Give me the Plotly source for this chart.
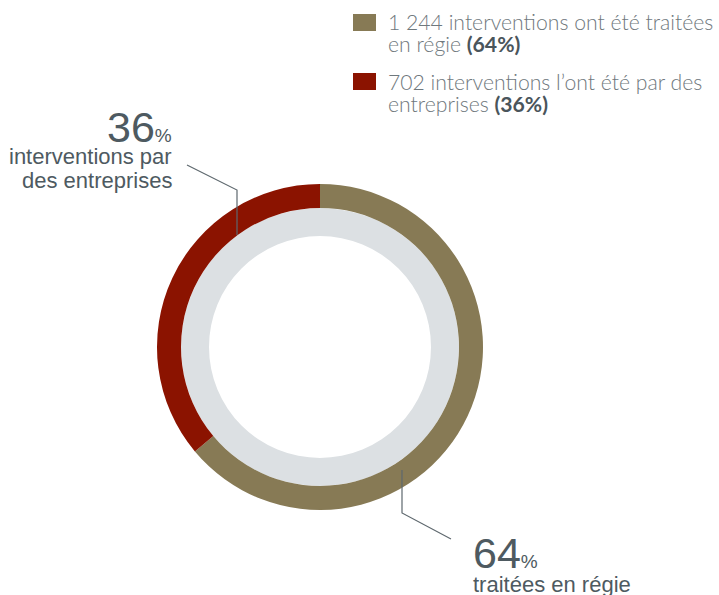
import plotly.graph_objects as go

W, H = 719, 595

# Data
categories = ["traitées en régie", "par des entreprises"]
counts = [1244, 702]
percents = [64, 36]
legend_lines = [
    ["1 244 interventions ont été traitées", "en régie <b>(64%)</b>"],
    ["702 interventions l\u2019ont été par des", "entreprises <b>(36%)</b>"],
]
colors = ["#877A55", "#8B1300"]
ring_gray = "#DCE0E3"
text_dark = "#4E5A61"
text_legend = "#6F787D"
line_col = "#5E686E"

# Donut geometry (pixels)
cx, cy = 320, 347
r_outer, r_color_in, r_gray_in = 163, 139, 111


def px(x):
    return x / W


def py(y):
    return 1 - y / H


def domain(r):
    return dict(x=[px(cx - r), px(cx + r)], y=[py(cy + r), py(cy - r)])


fig = go.Figure()

# Inner light-gray ring
fig.add_trace(go.Pie(
    values=[1], labels=["fond"], domain=domain(r_color_in),
    hole=r_gray_in / r_color_in, marker=dict(colors=[ring_gray], line=dict(width=0)),
    textinfo="none", hoverinfo="skip", sort=False, showlegend=False,
))

# Outer coloured ring
fig.add_trace(go.Pie(
    values=counts, labels=categories, domain=domain(r_outer),
    hole=r_color_in / r_outer, marker=dict(colors=colors, line=dict(width=0)),
    textinfo="none", sort=False, direction="clockwise", rotation=0,
    showlegend=False,
))

annotations = []
shapes = []


def add_text(x, baseline, text, size, color, family, anchor="left", descent=0.213, weight=None):
    font = dict(size=size, color=color, family=family)
    if weight:
        font["weight"] = weight
    annotations.append(dict(
        xref="paper", yref="paper", x=px(x), y=py(baseline + descent * size),
        xanchor=anchor, yanchor="bottom", text=text, showarrow=False,
        font=font, borderpad=0, borderwidth=0,
    ))


# Legend
leg_font = "Lato"
sw_y = [14, 73]
base_y = [[30, 52], [90, 112]]
for i in range(2):
    shapes.append(dict(type="rect", xref="paper", yref="paper",
                       x0=px(353), x1=px(376), y0=py(sw_y[i] + 17), y1=py(sw_y[i]),
                       fillcolor=colors[i], line=dict(width=0)))
    for j, line in enumerate(legend_lines[i]):
        add_text(388, base_y[i][j], line.replace("<b>", "<b><span style='color:#4A555B'>").replace("</b>", "</span></b>"),
                 21.2, text_legend, leg_font, weight=300)

# Callout labels
lab_font = "Liberation Sans, Arial, sans-serif"
add_text(172, 142, "%s<span style='font-size:19px'>%%</span>" % percents[1], 43, text_dark, lab_font, anchor="right", descent=0.212)
add_text(172, 164, "interventions par", 22, text_dark, lab_font, anchor="right", descent=0.212)
add_text(172, 188, "des entreprises", 22, text_dark, lab_font, anchor="right", descent=0.212)

add_text(473, 568, "%s<span style='font-size:19px'>%%</span>" % percents[0], 43, text_dark, lab_font, descent=0.212)
add_text(473, 592, categories[0], 22, text_dark, lab_font, descent=0.212)

# Leader lines
def path(pts):
    d = "M " + " L ".join("%f,%f" % (px(x), py(y)) for x, y in pts)
    return dict(type="path", xref="paper", yref="paper", path=d,
                line=dict(color=line_col, width=1.2))


shapes.append(path([(187, 165), (237, 190), (237, 235)]))
shapes.append(path([(402, 470), (402, 513), (451, 539)]))

fig.update_layout(
    width=W, height=H, margin=dict(l=0, r=0, t=0, b=0),
    paper_bgcolor="white", plot_bgcolor="white",
    annotations=annotations, shapes=shapes, showlegend=False,
)

fig.write_html("out.html")
